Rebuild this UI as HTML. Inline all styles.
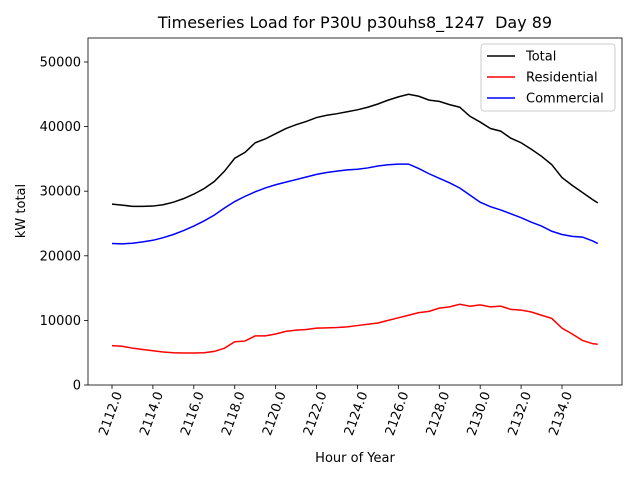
<!DOCTYPE html>
<html><head><meta charset="utf-8"><style>body{margin:0;background:#fff}svg{display:block;font-family:"DejaVu Sans","Liberation Sans",sans-serif}</style></head>
<body>
<svg id="chart" width="640" height="480"></svg>
<script>
const hours=[2112,2112.5,2113,2113.5,2114,2114.5,2115,2115.5,2116,2116.5,2117,2117.5,2118,2118.5,2119,2119.5,2120,2120.5,2121,2121.5,2122,2122.5,2123,2123.5,2124,2124.5,2125,2125.5,2126,2126.5,2127,2127.5,2128,2128.5,2129,2129.5,2130,2130.5,2131,2131.5,2132,2132.5,2133,2133.5,2134,2134.5,2135,2135.5,2135.75];
const totalVals=[28000,27850,27650,27650,27700,27900,28300,28850,29550,30400,31500,33100,35100,36000,37500,38100,38900,39700,40300,40800,41400,41750,42000,42300,42600,43000,43500,44100,44600,45000,44700,44100,43900,43400,43000,41600,40700,39700,39300,38200,37500,36500,35400,34100,32100,30900,29800,28700,28200];
const resVals=[6100,6000,5700,5500,5300,5100,5000,4950,4950,5000,5200,5700,6700,6800,7600,7600,7900,8300,8500,8600,8800,8850,8900,9000,9200,9400,9600,10000,10400,10800,11200,11400,11900,12100,12500,12200,12400,12100,12200,11700,11600,11300,10800,10300,8800,7900,6900,6400,6300];
const comVals=[21900,21850,21950,22150,22400,22800,23300,23900,24600,25400,26300,27400,28400,29200,29900,30500,31000,31400,31800,32200,32600,32900,33100,33300,33400,33600,33900,34100,34200,34200,33500,32700,32000,31300,30500,29400,28300,27600,27100,26500,25900,25200,24600,23800,23300,23000,22900,22300,21900];
const xTicks=[2112,2114,2116,2118,2120,2122,2124,2126,2128,2130,2132,2134];
const yTicks=[0,10000,20000,30000,40000,50000];
const L=88,R=622,T=38,B=385;
const x=h=>112+(h-2112)*450/22;
const y=v=>B-v*(B-62)/50000;
const svg=document.getElementById('chart');
const NS='http://www.w3.org/2000/svg';
function el(tag,attrs,txt){const e=document.createElementNS(NS,tag);for(const k in attrs)e.setAttribute(k,attrs[k]);if(txt!==undefined)e.textContent=txt;svg.appendChild(e);return e;}
let t=el('text',{x:355,y:28,'font-size':16,'text-anchor':'middle'},'Timeseries Load for P30U p30uhs8_1247\u00a0\u00a0Day 89');


xTicks.forEach(h=>{
  const tk=el('line',{x1:x(h),x2:x(h),y1:B,y2:B+4,stroke:'#000','stroke-width':0.8});
  
  
  const lb=el('text',{x:0,y:0,'font-size':13,'text-anchor':'end',transform:`translate(${x(h)+6},${B+7}) rotate(-70)`,dy:'0.35em'},h.toFixed(1));
  
  
});
yTicks.forEach(v=>{
  const tk=el('line',{x1:L-4,x2:L,y1:y(v),y2:y(v),stroke:'#000','stroke-width':0.8});
  
  
  const lb=el('text',{x:L-7,y:y(v)+4.5,'font-size':13,'text-anchor':'end'},String(v));
  
  
});
const series=[[totalVals,'#000','total-line'],[resVals,'#f00','residential-line'],[comVals,'#00f','commercial-line']];
series.forEach(([vals,c,n])=>{
  const p=el('polyline',{points:vals.map((v,i)=>x(hours[i])+','+y(v)).join(' '),fill:'none',stroke:c,'stroke-width':1.5});
  
  
});
const fr=el('rect',{x:L,y:T,width:R-L,height:B-T,fill:'none',stroke:'#000','stroke-width':0.8});


const xl=el('text',{x:355,y:462,'font-size':13,'text-anchor':'middle'},'Hour of Year');


const yl=el('text',{x:0,y:0,'font-size':13,'text-anchor':'middle',transform:'translate(25,211) rotate(-90)'},'kW total');


const lg=el('rect',{x:481,y:44,width:134,height:67,fill:'#fff',stroke:'#ccc',rx:3});


[['Total','#000'],['Residential','#f00'],['Commercial','#00f']].forEach(([n,c],i)=>{
  const yy=56+i*21;
  const ln=el('line',{x1:487,x2:515,y1:yy,y2:yy,stroke:c,'stroke-width':1.5});
  
  
  const tx=el('text',{x:526,y:yy+4.5,'font-size':13},n);
  
  
});
</script>
</body></html>
